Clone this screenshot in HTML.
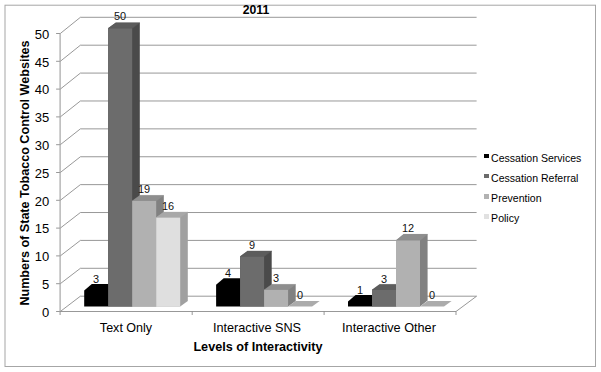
<!DOCTYPE html><html><head><meta charset="utf-8"><title>2011</title><style>
html,body{margin:0;padding:0;background:#fff;}
body{width:601px;height:372px;position:relative;overflow:hidden;font-family:"Liberation Sans",sans-serif;color:#000;}
.t{position:absolute;white-space:nowrap;line-height:1;}
.yl{font-size:13px;width:30px;text-align:right;left:19.3px;}
.dl{font-size:11.4px;transform:translateX(-50%) scaleX(0.96);color:#111;}
.xl{font-size:13px;transform:translateX(-50%) scaleX(0.976);}
.lg{font-size:10.55px;left:491.1px;}
.sq{position:absolute;left:483.6px;width:5.4px;height:4.8px;}
</style></head><body>
<svg width="601" height="372" viewBox="0 0 601 372" style="position:absolute;left:0;top:0">
<rect x="5" y="5.2" width="590.5" height="361.3" fill="#fff" stroke="#a6a6a6" stroke-width="1"/>
<polyline points="60.3,311.50 80.39999999999999,296.20 476.6,296.20" fill="none" stroke="#858585" stroke-width="0.85"/>
<line x1="56.099999999999994" y1="311.50" x2="60.3" y2="311.50" stroke="#858585" stroke-width="0.85"/>
<polyline points="60.3,283.70 80.39999999999999,268.31 476.6,268.31" fill="none" stroke="#858585" stroke-width="0.85"/>
<line x1="56.099999999999994" y1="283.70" x2="60.3" y2="283.70" stroke="#858585" stroke-width="0.85"/>
<polyline points="60.3,255.90 80.39999999999999,240.42 476.6,240.42" fill="none" stroke="#858585" stroke-width="0.85"/>
<line x1="56.099999999999994" y1="255.90" x2="60.3" y2="255.90" stroke="#858585" stroke-width="0.85"/>
<polyline points="60.3,228.10 80.39999999999999,212.53 476.6,212.53" fill="none" stroke="#858585" stroke-width="0.85"/>
<line x1="56.099999999999994" y1="228.10" x2="60.3" y2="228.10" stroke="#858585" stroke-width="0.85"/>
<polyline points="60.3,200.30 80.39999999999999,184.64 476.6,184.64" fill="none" stroke="#858585" stroke-width="0.85"/>
<line x1="56.099999999999994" y1="200.30" x2="60.3" y2="200.30" stroke="#858585" stroke-width="0.85"/>
<polyline points="60.3,172.50 80.39999999999999,156.75 476.6,156.75" fill="none" stroke="#858585" stroke-width="0.85"/>
<line x1="56.099999999999994" y1="172.50" x2="60.3" y2="172.50" stroke="#858585" stroke-width="0.85"/>
<polyline points="60.3,144.70 80.39999999999999,128.86 476.6,128.86" fill="none" stroke="#858585" stroke-width="0.85"/>
<line x1="56.099999999999994" y1="144.70" x2="60.3" y2="144.70" stroke="#858585" stroke-width="0.85"/>
<polyline points="60.3,116.90 80.39999999999999,100.97 476.6,100.97" fill="none" stroke="#858585" stroke-width="0.85"/>
<line x1="56.099999999999994" y1="116.90" x2="60.3" y2="116.90" stroke="#858585" stroke-width="0.85"/>
<polyline points="60.3,89.10 80.39999999999999,73.08 476.6,73.08" fill="none" stroke="#858585" stroke-width="0.85"/>
<line x1="56.099999999999994" y1="89.10" x2="60.3" y2="89.10" stroke="#858585" stroke-width="0.85"/>
<polyline points="60.3,61.30 80.39999999999999,45.19 476.6,45.19" fill="none" stroke="#858585" stroke-width="0.85"/>
<line x1="56.099999999999994" y1="61.30" x2="60.3" y2="61.30" stroke="#858585" stroke-width="0.85"/>
<polyline points="60.3,33.50 80.39999999999999,17.30 476.6,17.30" fill="none" stroke="#858585" stroke-width="0.85"/>
<line x1="56.099999999999994" y1="33.50" x2="60.3" y2="33.50" stroke="#858585" stroke-width="0.85"/>
<line x1="60.1" y1="33.50" x2="60.1" y2="315.0" stroke="#a2a2a2" stroke-width="1.15"/>
<polyline points="60.3,311.5 456.0,311.5 476.6,296.2" fill="none" stroke="#858585" stroke-width="0.85"/>
<line x1="192.20" y1="311.5" x2="192.20" y2="315.0" stroke="#858585" stroke-width="0.85"/>
<line x1="324.10" y1="311.5" x2="324.10" y2="315.0" stroke="#858585" stroke-width="0.85"/>
<line x1="456.00" y1="311.5" x2="456.00" y2="315.0" stroke="#858585" stroke-width="0.85"/>
<polygon points="84.20,306.60 84.20,290.41 91.80,283.91 115.80,283.91 115.80,300.10 108.20,306.60" fill="#000000"/>
<polygon points="108.20,306.60 108.20,28.35 115.80,22.85 139.80,22.85 139.80,301.10 132.20,306.60" fill="#4a4a4a"/>
<polygon points="108.20,28.35 115.80,22.85 139.80,22.85 132.20,28.35" fill="#5c5c5c" stroke="#5c5c5c" stroke-width="0.4"/>
<rect x="108.20" y="28.35" width="24.0" height="278.25" fill="#6c6c6c"/>
<polygon points="132.20,306.60 132.20,200.92 139.80,195.42 163.80,195.42 163.80,301.10 156.20,306.60" fill="#818181"/>
<polygon points="132.20,200.92 139.80,195.42 163.80,195.42 156.20,200.92" fill="#8e8e8e" stroke="#8e8e8e" stroke-width="0.4"/>
<rect x="132.20" y="200.92" width="24.0" height="105.68" fill="#b1b1b1"/>
<polygon points="156.20,306.60 156.20,217.61 163.80,212.11 187.80,212.11 187.80,301.10 180.20,306.60" fill="#a0a0a0"/>
<polygon points="156.20,217.61 163.80,212.11 187.80,212.11 180.20,217.61" fill="#a8a8a8" stroke="#a8a8a8" stroke-width="0.4"/>
<rect x="156.20" y="217.61" width="24.0" height="88.99" fill="#dfdfdf"/>
<polygon points="216.10,306.60 216.10,284.85 223.70,278.35 247.70,278.35 247.70,300.10 240.10,306.60" fill="#000000"/>
<polygon points="240.10,306.60 240.10,256.54 247.70,251.04 271.70,251.04 271.70,301.10 264.10,306.60" fill="#4a4a4a"/>
<polygon points="240.10,256.54 247.70,251.04 271.70,251.04 264.10,256.54" fill="#5c5c5c" stroke="#5c5c5c" stroke-width="0.4"/>
<rect x="240.10" y="256.54" width="24.0" height="50.06" fill="#6c6c6c"/>
<polygon points="264.10,306.60 264.10,289.91 271.70,284.41 295.70,284.41 295.70,301.10 288.10,306.60" fill="#818181"/>
<polygon points="264.10,289.91 271.70,284.41 295.70,284.41 288.10,289.91" fill="#8e8e8e" stroke="#8e8e8e" stroke-width="0.4"/>
<rect x="264.10" y="289.91" width="24.0" height="16.69" fill="#b1b1b1"/>
<polygon points="288.10,306.60 295.70,301.10 319.70,301.10 312.10,306.60" fill="#ababab"/>
<polygon points="348.00,306.60 348.00,301.54 355.60,295.04 379.60,295.04 379.60,300.10 372.00,306.60" fill="#000000"/>
<polygon points="372.00,306.60 372.00,289.91 379.60,284.41 403.60,284.41 403.60,301.10 396.00,306.60" fill="#4a4a4a"/>
<polygon points="372.00,289.91 379.60,284.41 403.60,284.41 396.00,289.91" fill="#5c5c5c" stroke="#5c5c5c" stroke-width="0.4"/>
<rect x="372.00" y="289.91" width="24.0" height="16.69" fill="#6c6c6c"/>
<polygon points="396.00,306.60 396.00,240.46 403.60,234.36 427.60,234.36 427.60,300.50 420.00,306.60" fill="#818181"/>
<polygon points="396.00,240.46 403.60,234.36 427.60,234.36 420.00,240.46" fill="#8e8e8e" stroke="#8e8e8e" stroke-width="0.4"/>
<rect x="396.00" y="240.46" width="24.0" height="66.14" fill="#b1b1b1"/>
<polygon points="420.00,306.60 427.60,301.10 451.60,301.10 444.00,306.60" fill="#ababab"/>
</svg>
<div class="t" style="left:255.7px;top:2.80px;font-size:13px;font-weight:bold;transform:translateX(-50%) scaleX(0.94)">2011</div>
<div class="t yl" style="top:305.80px">0</div>
<div class="t yl" style="top:278.00px">5</div>
<div class="t yl" style="top:250.20px">10</div>
<div class="t yl" style="top:222.40px">15</div>
<div class="t yl" style="top:194.60px">20</div>
<div class="t yl" style="top:166.80px">25</div>
<div class="t yl" style="top:139.00px">30</div>
<div class="t yl" style="top:111.20px">35</div>
<div class="t yl" style="top:83.40px">40</div>
<div class="t yl" style="top:55.60px">45</div>
<div class="t yl" style="top:27.80px">50</div>
<div class="t dl" style="left:96.1px;top:273.86px">3</div>
<div class="t dl" style="left:120.1px;top:10.90px">50</div>
<div class="t dl" style="left:144.1px;top:184.17px">19</div>
<div class="t dl" style="left:168.1px;top:200.86px">16</div>
<div class="t dl" style="left:228.0px;top:268.30px">4</div>
<div class="t dl" style="left:252.0px;top:239.79px">9</div>
<div class="t dl" style="left:276.0px;top:273.16px">3</div>
<div class="t dl" style="left:300.0px;top:289.85px">0</div>
<div class="t dl" style="left:359.9px;top:285.39px">1</div>
<div class="t dl" style="left:383.9px;top:273.56px">3</div>
<div class="t dl" style="left:407.9px;top:223.01px">12</div>
<div class="t dl" style="left:431.9px;top:290.25px">0</div>
<div class="t xl" style="left:126.0px;top:321.45px;transform:translateX(-50%) scaleX(0.965)">Text Only</div>
<div class="t xl" style="left:257.4px;top:321.45px;transform:translateX(-50%) scaleX(0.976)">Interactive SNS</div>
<div class="t xl" style="left:389.2px;top:321.45px;transform:translateX(-50%) scaleX(0.976)">Interactive Other</div>
<div class="t" style="left:257.6px;top:340.00px;font-size:13px;font-weight:bold;transform:translateX(-50%) scaleX(0.972)">Levels of Interactivity</div>
<div class="t" style="left:24.10px;top:172.5px;font-size:13px;font-weight:bold;transform:translate(-50%,-50%) rotate(-90deg) scaleX(0.968)">Numbers of State Tobacco Control Websites</div>
<div class="sq" style="top:153.5px;background:#000"></div>
<div class="t lg" style="top:152.51px">Cessation Services</div>
<div class="sq" style="top:173.7px;background:#6b6b6b"></div>
<div class="t lg" style="top:172.51px">Cessation Referral</div>
<div class="sq" style="top:193.9px;background:#b2b2b2"></div>
<div class="t lg" style="top:192.51px">Prevention</div>
<div class="sq" style="top:214.1px;background:#e1e1e1"></div>
<div class="t lg" style="top:212.51px">Policy</div>
</body></html>
